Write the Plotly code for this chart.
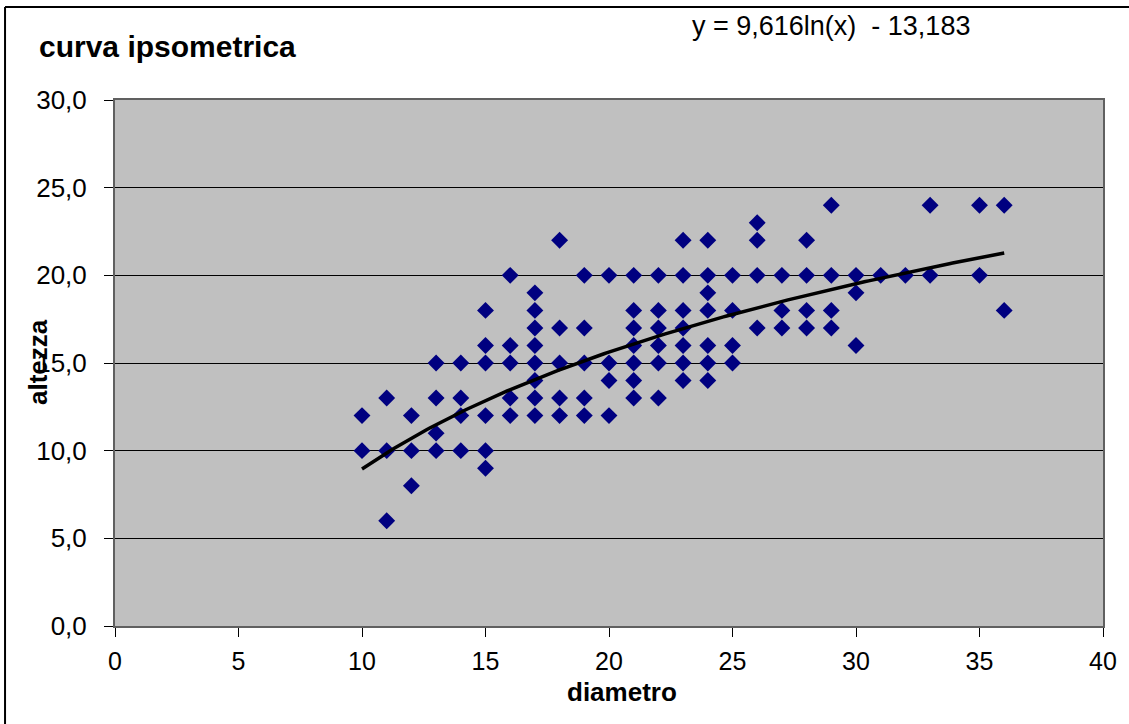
import numpy as np
import plotly.graph_objects as go

# Data: diameter (x) and height (y)
diametro = [10, 10,
            11, 11, 11,
            12, 12, 12,
            13, 13, 13, 13,
            14, 14, 14, 14,
            15, 15, 15, 15, 15, 15,
            16, 16, 16, 16, 16,
            17, 17, 17, 17, 17, 17, 17, 17,
            18, 18, 18, 18, 18,
            19, 19, 19, 19, 19,
            20, 20, 20, 20,
            21, 21, 21, 21, 21, 21, 21,
            22, 22, 22, 22, 22, 22,
            23, 23, 23, 23, 23, 23, 23,
            24, 24, 24, 24, 24, 24, 24,
            25, 25, 25, 25,
            26, 26, 26, 26,
            27, 27, 27,
            28, 28, 28, 28,
            29, 29, 29, 29,
            30, 30, 30,
            31,
            32,
            33, 33,
            35, 35,
            36, 36]
altezza = [12, 10,
           13, 10, 6,
           12, 10, 8,
           15, 13, 11, 10,
           15, 13, 12, 10,
           18, 16, 15, 12, 10, 9,
           20, 16, 15, 13, 12,
           19, 18, 17, 16, 15, 14, 13, 12,
           22, 17, 15, 13, 12,
           20, 17, 15, 13, 12,
           20, 15, 14, 12,
           20, 18, 17, 16, 15, 14, 13,
           20, 18, 17, 16, 15, 13,
           22, 20, 18, 17, 16, 15, 14,
           22, 20, 19, 18, 16, 15, 14,
           20, 18, 16, 15,
           23, 22, 20, 17,
           20, 18, 17,
           22, 20, 18, 17,
           24, 20, 18, 17,
           20, 19, 16,
           20,
           20,
           24, 20,
           24, 20,
           24, 18]

# Logarithmic trendline coefficients shown on the chart
coef_a = 9.616
coef_b = -13.183
trend_x = np.linspace(min(diametro), max(diametro), 200)
trend_y = coef_a * np.log(trend_x) + coef_b

x_ticks = [0, 5, 10, 15, 20, 25, 30, 35, 40]
y_ticks = [0, 5, 10, 15, 20, 25, 30]

font_family = "Liberation Sans, Arial, sans-serif"

fig = go.Figure()
fig.add_trace(go.Scatter(
    x=diametro, y=altezza, mode="markers",
    marker=dict(symbol="diamond", size=13, color="#000080", line=dict(width=0)),
    showlegend=False, hoverinfo="x+y"))
fig.add_trace(go.Scatter(
    x=trend_x, y=trend_y, mode="lines",
    line=dict(color="black", width=3.5),
    showlegend=False, hoverinfo="skip"))

fig.update_layout(
    width=1129, height=724,
    paper_bgcolor="white", plot_bgcolor="#C0C0C0",
    margin=dict(l=115, r=26, t=100, b=98),
    separators=",.",
    font=dict(family=font_family, color="black", size=26),
    xaxis=dict(range=[0, 40], tickvals=x_ticks, showgrid=False, zeroline=False,
               showline=True, linecolor="#606060", linewidth=2, mirror=True,
               ticks="outside", ticklen=9, tickcolor="black", tickwidth=1,
               ticklabelstandoff=3,
               tickfont=dict(size=25)),
    yaxis=dict(range=[0, 30], tickvals=y_ticks, tickformat=".1f",
               showgrid=True, gridcolor="black", gridwidth=1, zeroline=False,
               showline=True, linecolor="#606060", linewidth=2, mirror=True,
               ticks="outside", ticklen=9, tickcolor="black", tickwidth=1,
               ticklabelstandoff=12,
               tickfont=dict(size=26)),
    annotations=[
        dict(text="<b>curva ipsometrica</b>", xref="paper", yref="paper",
             x=-0.0789, y=1.1017, xanchor="left", yanchor="middle",
             showarrow=False, font=dict(size=30)),
        dict(text="y = 9,616ln(x)  - 13,183", xref="paper", yref="paper",
             x=0.582, y=1.1413, xanchor="left", yanchor="middle",
             showarrow=False, font=dict(size=27)),
        dict(text="<b>altezza</b>", xref="paper", yref="paper",
             x=-0.0779, y=0.502, xanchor="center", yanchor="middle",
             textangle=-90, showarrow=False, font=dict(size=26)),
        dict(text="<b>diametro</b>", xref="paper", yref="paper",
             x=0.513, y=-0.1255, xanchor="center", yanchor="middle",
             showarrow=False, font=dict(size=26)),
    ],
    shapes=[
        dict(type="line", xref="paper", yref="paper",
             x0=-0.1113, x1=-0.1113, y0=-0.3, y1=1.1768,
             line=dict(color="black", width=2), layer="below"),
        dict(type="line", xref="paper", yref="paper",
             x0=-0.1113, x1=1.05, y0=1.1768, y1=1.1768,
             line=dict(color="black", width=2), layer="below"),
    ],
)

fig.write_html("out.html", config={"displayModeBar": False},
               post_script="document.body.style.margin='0';")
